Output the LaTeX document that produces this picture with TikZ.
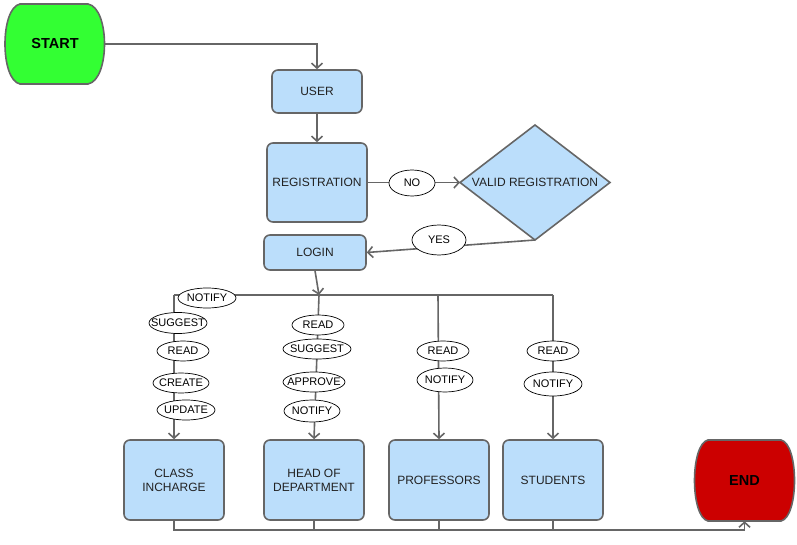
\documentclass[tikz,border=0pt]{standalone}
\usepackage{fontspec}
\setmainfont{Liberation Sans}
\usetikzlibrary{arrows.meta,shapes.geometric}
\definecolor{boxblue}{HTML}{BBDEFB}
\definecolor{edgegray}{HTML}{666666}
\definecolor{startgreen}{HTML}{33FF33}
\definecolor{endred}{HTML}{CC0000}
\definecolor{txt}{HTML}{222222}
\begin{document}
\begin{tikzpicture}[x=1pt,y=-1pt,
  box/.style={draw=edgegray, line width=1.6pt, fill=boxblue, rounded corners=6pt,
    inner sep=0pt, align=center, text=txt, font=\fontsize{12}{14}\selectfont},
  term/.style={inner sep=0pt, minimum width=100, minimum height=80,
    font=\bfseries\fontsize{14.5}{17}\selectfont},
  lbl/.style={draw=black, line width=0.7pt, ellipse, fill=white, inner xsep=-9pt,
    inner ysep=0pt, font=\fontsize{11}{13}\selectfont},
  line/.style={draw=edgegray, line width=1.6pt},
  arr/.style={line, -{Straight Barb[length=5pt,width=11pt]}},
]
\useasboundingbox (0,0) rectangle (797,545);

% START terminator
\fill[startgreen, draw=edgegray, line width=1.6pt]
  (20,4) -- (88,4) .. controls (110,8) and (110,80) .. (88,84) -- (20,84)
  .. controls (0,80) and (0,8) .. cycle;
\node[term] (start) at (55,44) {START};

% END terminator
\fill[endred, draw=edgegray, line width=1.6pt]
  (708,440) -- (781,440) .. controls (799,444) and (799,517) .. (781,521) -- (708,521)
  .. controls (690,517) and (690,444) .. cycle;
\node[term, minimum height=81] (end) at (744.5,480.5) {END};

% boxes
\node[box, minimum width=90, minimum height=43] (user) at (317,91.5) {USER};
\node[box, minimum width=100, minimum height=79] (reg) at (317,182.5) {REGISTRATION};
\node[box, minimum width=102, minimum height=35] (login) at (315,252.5) {LOGIN};
\node[box, minimum width=100, minimum height=80] (ci) at (174,480) {CLASS\\INCHARGE};
\node[box, minimum width=100, minimum height=80] (hod) at (314,480) {HEAD OF\\DEPARTMENT};
\node[box, minimum width=100, minimum height=80] (prof) at (439,480) {PROFESSORS};
\node[box, minimum width=100, minimum height=80] (stud) at (553,480) {STUDENTS};

% diamond
\coordinate (vw) at (460,182.5);
\coordinate (vn) at (535,125);
\coordinate (ve) at (610,182.5);
\coordinate (vs) at (535,240);
\filldraw[fill=boxblue, draw=edgegray, line width=1.6pt, line join=miter]
  (vw) -- (vn) -- (ve) -- (vs) -- cycle;
\node[text=txt, font=\fontsize{12}{14}\selectfont] (valid) at (535,182.5) {VALID REGISTRATION};

% connectors top
\draw[arr] (start.east) -| (user.north);
\draw[arr] (user.south) -- (reg.north);
\draw[arr] (reg.east) -- (vw);
\node[lbl, minimum width=46, minimum height=26] (no) at (412,183) {NO};
\draw[arr] (vs) -- (login.east);
\node[lbl, minimum width=54, minimum height=30] (yes) at (439,240) {YES};

% bus
\coordinate (b1) at (174,295);
\coordinate (j2) at (319,295);
\coordinate (b3) at (438,295);
\coordinate (b4) at (553,295);
\draw[line] (b1) -- (b4);
\draw[arr] (login.south) -- (j2);
\draw[arr] (b1) -- (ci.north);
\draw[arr] (j2) -- (hod.north);
\draw[arr] (b3) -- (prof.north);
\draw[arr] (b4) -- (stud.north);

% branch 1 labels
\node[lbl, minimum width=58, minimum height=20] (n1) at (207,298) {NOTIFY};
\node[lbl, minimum width=58, minimum height=21] (s1) at (178,323) {SUGGEST};
\node[lbl, minimum width=52, minimum height=20] (r1) at (183,351) {READ};
\node[lbl, minimum width=56, minimum height=20] (c1) at (181,383) {CREATE};
\node[lbl, minimum width=58, minimum height=20] (u1) at (186,410) {UPDATE};

% branch 2 labels
\node[lbl, minimum width=52, minimum height=20] (r2) at (318,325) {READ};
\node[lbl, minimum width=68, minimum height=20] (s2) at (317,349) {SUGGEST};
\node[lbl, minimum width=62, minimum height=20] (a2) at (314,382) {APPROVE};
\node[lbl, minimum width=56, minimum height=22] (n2) at (312,411) {NOTIFY};

% branch 3 labels
\node[lbl, minimum width=52, minimum height=20] (r3) at (443,351) {READ};
\node[lbl, minimum width=56, minimum height=24] (n3) at (445,380) {NOTIFY};

% branch 4 labels
\node[lbl, minimum width=52, minimum height=20] (r4) at (553,351) {READ};
\node[lbl, minimum width=58, minimum height=24] (n4) at (553,384) {NOTIFY};

% bottom connectors to END
\draw[arr] (ci.south) -- ++(0,9) -| (end.south);
\draw[line] (hod.south) -- ++(0,9);
\draw[line] (prof.south) -- ++(0,9);
\draw[line] (stud.south) -- ++(0,9);
\end{tikzpicture}
\end{document}
